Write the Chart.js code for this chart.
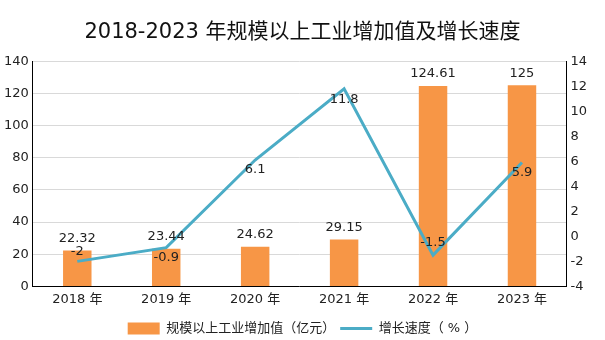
<!DOCTYPE html>
<html>
<head>
<meta charset="utf-8">
<script src="https://cdn.jsdelivr.net/npm/chart.js@4"></script>
<style>
  html, body { margin: 0; padding: 0; background: #fff; }
  #wrap { width: 605px; height: 340px; }
</style>
</head>
<body>
<div id="wrap"><canvas id="chart" width="605" height="340"></canvas></div>
<script>
const years = ['2018 年', '2019 年', '2020 年', '2021 年', '2022 年', '2023 年'];
const addedValue = [22.32, 23.44, 24.62, 29.15, 124.61, 125];
const growthRate = [-2, -0.9, 6.1, 11.8, -1.5, 5.9];
// label offsets for the line values (px, + = below point)
const rateLabelShift = [-10, 10, 10, 11, -12, 10];

const FONT = "'DejaVu Sans', 'Noto Sans CJK SC', sans-serif";

const valueLabels = {
    id: 'valueLabels',
    afterLayout(chart) {
        // push the legend a little lower, closer to the bottom edge
        chart.legend.top += 5;
        chart.legend.bottom += 5;
    },
    afterDatasetsDraw(chart) {
        const ctx = chart.ctx;
        ctx.save();
        ctx.font = '13px ' + FONT;
        ctx.fillStyle = '#222';
        ctx.textAlign = 'center';
        ctx.textBaseline = 'middle';
        chart.getDatasetMeta(0).data.forEach((bar, i) => {
            ctx.fillText(String(addedValue[i]), bar.x, bar.y - 12);
        });
        chart.getDatasetMeta(1).data.forEach((pt, i) => {
            ctx.fillText(String(growthRate[i]), pt.x, pt.y + rateLabelShift[i]);
        });
        ctx.restore();
    }
};

new Chart(document.getElementById('chart'), {
    data: {
        labels: years,
        datasets: [
            {
                type: 'bar',
                label: '规模以上工业增加值（亿元）',
                data: addedValue,
                backgroundColor: '#F79646',
                yAxisID: 'y',
                categoryPercentage: 1,
                barPercentage: 0.32,
                pointStyle: 'rect',
                order: 2
            },
            {
                type: 'line',
                label: '增长速度（ % ）',
                data: growthRate,
                borderColor: '#4BACC6',
                backgroundColor: '#4BACC6',
                borderWidth: 3,
                pointRadius: 0,
                tension: 0,
                yAxisID: 'y1',
                pointStyle: 'line',
                order: 1
            }
        ]
    },
    options: {
        responsive: false,
        animation: false,
        layout: { padding: { left: 0, right: 0, top: 0, bottom: 0 } },
        plugins: {
            title: {
                display: true,
                text: '2018-2023 年规模以上工业增加值及增长速度',
                color: '#111',
                font: { family: FONT, size: 21, weight: 'normal' },
                padding: { top: 20, bottom: 16 }
            },
            legend: {
                position: 'bottom',
                labels: {
                    color: '#222',
                    font: { family: FONT, size: 13 },
                    usePointStyle: true,
                    pointStyleWidth: 32,
                    boxHeight: 12,
                    padding: 5,
                    sort: (a, b) => a.datasetIndex - b.datasetIndex
                }
            },
            tooltip: { enabled: false }
        },
        scales: {
            x: {
                grid: { display: false, drawTicks: false },
                border: { color: '#000', width: 1 },
                ticks: { color: '#222', font: { family: FONT, size: 13 }, padding: 5 }
            },
            y: {
                position: 'left',
                min: 0, max: 140,
                ticks: { stepSize: 20, color: '#222', font: { family: FONT, size: 13 }, padding: 4 },
                grid: { color: '#d9d9d9', drawTicks: false },
                border: { color: '#000', width: 1 }
            },
            y1: {
                position: 'right',
                min: -4, max: 14,
                ticks: { stepSize: 2, color: '#222', font: { family: FONT, size: 13 }, padding: 4 },
                grid: { display: false, drawTicks: false },
                border: { color: '#000', width: 1 },
                afterFit: (scale) => { scale.width += 14; }
            }
        }
    },
    plugins: [valueLabels]
});
</script>
</body>
</html>
